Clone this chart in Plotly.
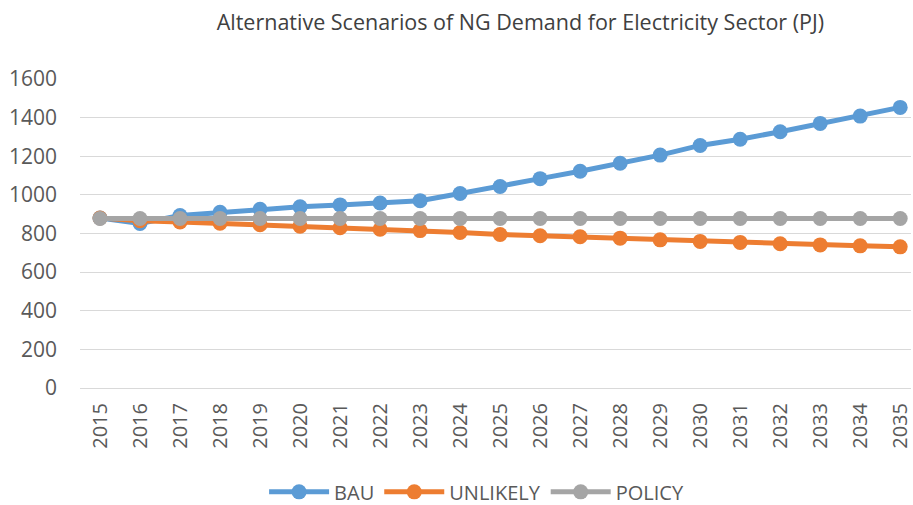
import plotly.graph_objects as go

years = [str(y) for y in range(2015, 2036)]

bau = [880, 852, 893, 910, 925, 938, 948, 958, 970, 1007, 1043, 1084, 1122, 1164,
       1206, 1256, 1288, 1327, 1370, 1408, 1453]
unlikely = [880, 866, 860, 853, 845, 838, 830, 822, 815, 805, 795, 788, 783, 776,
            767, 759, 754, 747, 741, 736, 731]
policy = [878] * 21

SERIES = [
    ("BAU", bau, "#5B9BD5"),
    ("UNLIKELY", unlikely, "#ED7D31"),
    ("POLICY", policy, "#A5A5A5"),
]

FONT = "Open Sans, Liberation Sans, sans-serif"

fig = go.Figure()
for name, vals, col in SERIES:
    fig.add_trace(go.Scatter(
        x=years, y=vals, name=name, mode="lines+markers",
        line=dict(color=col, width=5),
        marker=dict(color=col, size=15),
    ))

fig.update_layout(
    width=913, height=505,
    paper_bgcolor="white", plot_bgcolor="white",
    margin=dict(l=80, r=0, t=79, b=117),
    title=dict(text="Alternative Scenarios of NG Demand for Electricity Sector (PJ)",
               x=0.57, xanchor="center", y=0.956, yanchor="middle",
               font=dict(family=FONT, size=21.5, color="#404040")),
    font=dict(family=FONT, size=18, color="#595959"),
    legend=dict(orientation="h", xref="container", x=0.522, xanchor="center",
                yref="container", y=0.026, yanchor="middle",
                font=dict(size=20, color="#595959"), itemwidth=60),
    showlegend=True,
)
fig.update_xaxes(
    type="category", range=[-0.5, 20.27], tickangle=-90,
    showgrid=False, showline=True, linecolor="#d9d9d9", linewidth=1,
    ticks="", ticklabelstandoff=6, tickfont=dict(size=20, color="#595959"),
)
fig.update_yaxes(
    range=[0, 1600], tickvals=list(range(0, 1601, 200)),
    showgrid=True, gridcolor="#d9d9d9", gridwidth=1,
    zeroline=True, zerolinecolor="#d9d9d9", ticks="", ticklabelstandoff=22,
    tickfont=dict(size=21, color="#595959"),
)

# drop the default page margin so the figure sits flush in the window
fig.write_html("out.html",
               config={"displayModeBar": False},
               post_script="document.body.style.margin='0';"
                           "document.body.style.overflow='hidden';")
